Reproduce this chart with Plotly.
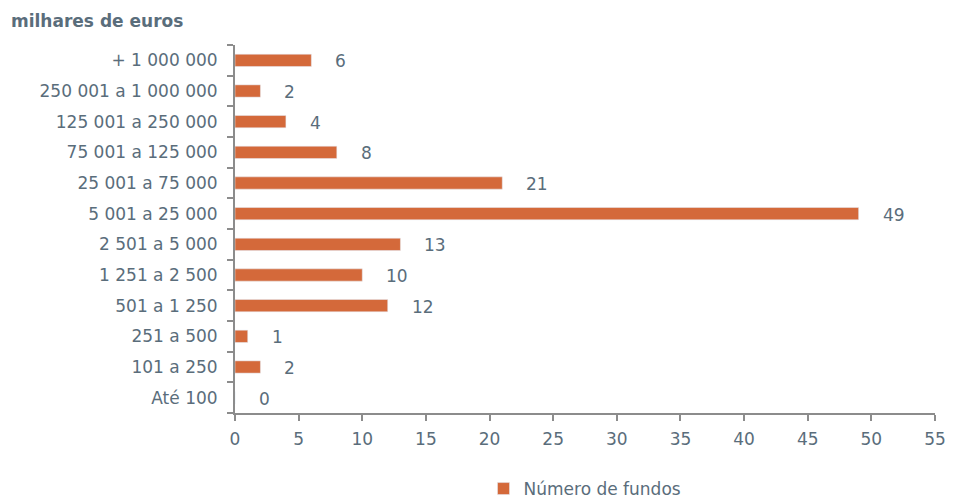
import plotly.graph_objects as go

categories = ["Até 100", "101 a 250", "251 a 500", "501 a 1 250", "1 251 a 2 500",
              "2 501 a 5 000", "5 001 a 25 000", "25 001 a 75 000", "75 001 a 125 000",
              "125 001 a 250 000", "250 001 a 1 000 000", "+ 1 000 000"]
values = [0, 2, 1, 12, 10, 13, 49, 21, 8, 4, 2, 6]
series_name = "Número de fundos"
x_ticks = list(range(0, 56, 5))

bar_color = "#d4693a"
text_color = "#5a6d7b"
axis_color = "#8c8c8c"
font_family = "'DejaVu Sans', sans-serif"

fig = go.Figure()
fig.add_trace(go.Bar(
    y=categories, x=values, orientation="h", name=series_name,
    marker=dict(color=bar_color), showlegend=True,
))

for c, v in zip(categories, values):
    fig.add_annotation(x=v, y=c, text=str(v), showarrow=False,
                       xanchor="left", xshift=22, yshift=-1,
                       font=dict(size=17, color=text_color, family=font_family))

fig.add_annotation(text="<b>milhares de euros</b>", xref="paper", yref="paper",
                   x=0, y=1, xanchor="left", yanchor="bottom", showarrow=False,
                   xshift=-226, yshift=12,
                   font=dict(size=17, color=text_color, family=font_family))

fig.update_layout(
    width=953, height=499,
    margin=dict(l=235, r=18, t=45, b=86),
    plot_bgcolor="white", paper_bgcolor="white",
    bargap=0.6,
    font=dict(family=font_family, color=text_color, size=17),
    xaxis=dict(range=[0, 55], tickvals=x_ticks, showgrid=False, zeroline=False,
               showline=True, linecolor=axis_color, linewidth=2,
               ticks="outside", ticklen=6, tickcolor=axis_color, tickwidth=2,
               tickfont=dict(size=17, color=text_color), automargin=False,
               ticklabelstandoff=4),
    yaxis=dict(categoryorder="array", categoryarray=categories,
               showgrid=False, zeroline=False, showline=True,
               linecolor=axis_color, linewidth=2,
               ticks="outside", tickson="boundaries", ticklen=6,
               tickcolor=axis_color, tickwidth=2, automargin=False,
               tickfont=dict(size=17, color=text_color), ticklabelstandoff=12),
    legend=dict(orientation="h", x=0.5, xanchor="center",
                yref="container", y=0.02, yanchor="middle",
                font=dict(size=17, color=text_color)),
)

fig.write_html("out.html")
